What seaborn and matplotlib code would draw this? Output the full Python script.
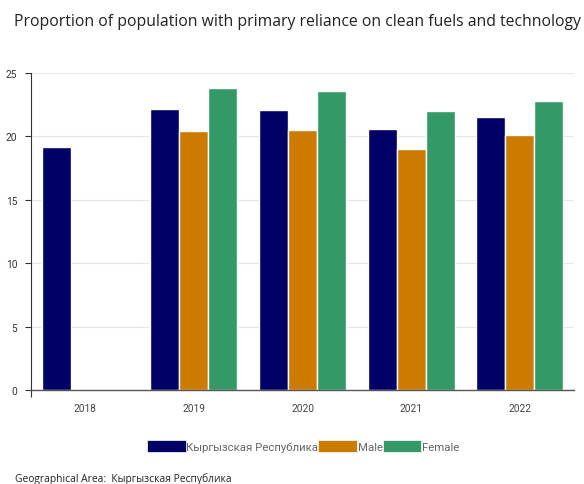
import pandas as pd
import numpy as np
import matplotlib
matplotlib.use('Agg')
import matplotlib.pyplot as plt
from matplotlib.patches import Patch
import seaborn as sns

# Data
years = ['2018', '2019', '2020', '2021', '2022']
kyrgyz = [19.2, 22.2, 22.1, 20.6, 21.55]
male = [np.nan, 20.4, 20.5, 19.0, 20.1]
female = [np.nan, 23.8, 23.6, 22.0, 22.8]

series_names = ['Кыргызская Республика', 'Male', 'Female']
colors = ['#000066', '#cc7a00', '#339966']

df = pd.DataFrame({
    'year': years * 3,
    'series': [series_names[0]] * 5 + [series_names[1]] * 5 + [series_names[2]] * 5,
    'value': kyrgyz + male + female,
})

sns.set_style('white')
plt.rcParams['font.family'] = ['Roboto', 'DejaVu Sans']

fig = plt.figure(figsize=(5.84, 4.85), dpi=100)
ax = fig.add_axes([31 / 584, 1 - 391 / 485, 543 / 584, 317 / 485])

sns.barplot(data=df, x='year', y='value', hue='series', order=years,
            hue_order=series_names, palette=colors, saturation=1, width=0.8,
            edgecolor='white', linewidth=1.0, errorbar=None, ax=ax, legend=False)

ax.set_xlim(-0.5, 4.5)
ax.set_ylim(0, 25)
ax.set_yticks([0, 5, 10, 15, 20, 25])
ax.yaxis.grid(True, color='#e6e6e6', linewidth=0.8)
ax.set_axisbelow(True)
ax.set_xlabel('')
ax.set_ylabel('')

for side in ['top', 'right']:
    ax.spines[side].set_visible(False)
ax.spines['left'].set_color('#333333')
ax.spines['bottom'].set_color('#555555')
ax.spines['left'].set_linewidth(0.8)
ax.spines['bottom'].set_linewidth(1.0)

ax.tick_params(axis='y', labelsize=7.3, labelcolor='#333333', length=4, width=0.8,
               color='#333333', pad=6, left=True)
ax.tick_params(axis='x', labelsize=7.3, labelcolor='#444444', length=0, pad=9)
ax.set_xticks([-0.5], minor=True)
ax.tick_params(axis='x', which='minor', length=5, width=0.8, color='#333333', bottom=True)

fig.text(14 / 584, 1 - 22 / 485, 'Proportion of population with primary reliance on clean fuels and technology',
         fontsize=11.3, color='#222222', family=['Open Sans', 'DejaVu Sans'], va='center')

handles = [Patch(facecolor=c, edgecolor='white', linewidth=0.5) for c in colors]
leg = fig.legend(handles, series_names, loc='center', bbox_to_anchor=(303 / 584, 1 - 447 / 485),
                 ncol=3, frameon=False, fontsize=8.2, handlelength=3.4, handleheight=1.15,
                 handletextpad=0.05, columnspacing=0.0, borderpad=0)
for t in leg.get_texts():
    t.set_color('#666666')

fig.text(15 / 584, 1 - 479 / 485, 'Geographical Area:  Кыргызская Республика',
         fontsize=7.4, color='#222222', family=['Open Sans', 'DejaVu Sans'], va='center')

fig.savefig('out.png', dpi=100)
